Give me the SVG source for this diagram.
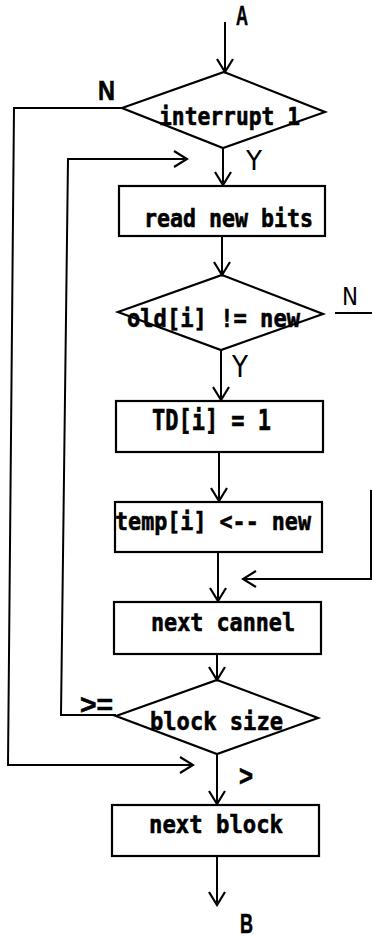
<svg xmlns="http://www.w3.org/2000/svg" width="372" height="938" viewBox="0 0 372 938">
<style>
.shape{fill:none;stroke:#000;stroke-width:2.2}
.conn{fill:none;stroke:#000;stroke-width:2}
.box{font-family:"DejaVu Sans Mono","Liberation Mono",monospace;font-weight:bold;font-size:25px;fill:#000;stroke:#000;stroke-width:0.6}
.lbl{font-family:"Liberation Sans","DejaVu Sans",sans-serif;font-weight:bold;fill:#000;stroke:#000;stroke-width:0.6}
.thin{font-family:"DejaVu Sans","Liberation Sans",sans-serif;font-weight:normal;fill:#000}
</style>
<defs>
<marker id="arr" viewBox="-15 -10 17 20" markerWidth="17" markerHeight="20" refX="0" refY="0" orient="auto" markerUnits="userSpaceOnUse">
<path d="M-13,-8 L0,0 L-13,8" fill="none" stroke="#000" stroke-width="2.2"/>
</marker>
</defs>
<rect width="372" height="938" fill="#fff"/>
<g id="connectors">
<path class="conn" d="M225,22 V72" marker-end="url(#arr)"/>
<path class="conn" d="M223,148 V185" marker-end="url(#arr)"/>
<path class="conn" d="M222,236 V275" marker-end="url(#arr)"/>
<path class="conn" d="M221,350 V400" marker-end="url(#arr)"/>
<path class="conn" d="M219,452 V501" marker-end="url(#arr)"/>
<path class="conn" d="M218,552 V601" marker-end="url(#arr)"/>
<path class="conn" d="M335,313 H374"/>
<path class="conn" d="M371,490 V579 H243" marker-end="url(#arr)"/>
<path class="conn" d="M217,654 V680" marker-end="url(#arr)"/>
<path class="conn" d="M116,715 H61 L68,159 H187" marker-end="url(#arr)"/>
<path class="conn" d="M122,108 H14 L8,765 H193" marker-end="url(#arr)"/>
<path class="conn" d="M217,754 V804" marker-end="url(#arr)"/>
<path class="conn" d="M217,856 V905" marker-end="url(#arr)"/>
</g>
<g id="start">
<text class="lbl" x="236" y="25" style="font-size:28px" textLength="12" lengthAdjust="spacingAndGlyphs">A</text>
</g>
<g id="interrupt">
<polygon class="shape" points="224,72 325,112 223,148 122,108"/>
<text class="box" x="159" y="125" textLength="141" lengthAdjust="spacingAndGlyphs">interrupt 1</text>
<text class="lbl" x="98" y="100" style="font-size:28px" textLength="17" lengthAdjust="spacingAndGlyphs">N</text>
<text class="thin" x="246" y="170" style="font-size:26px" textLength="16" lengthAdjust="spacingAndGlyphs">Y</text>
</g>
<g id="read">
<rect class="shape" x="119" y="186" width="206" height="50"/>
<text class="box" x="144" y="227" textLength="169" lengthAdjust="spacingAndGlyphs">read new bits</text>
</g>
<g id="compare">
<polygon class="shape" points="222,275 323,314 221,350 118,312"/>
<text class="box" x="127" y="327" textLength="173" lengthAdjust="spacingAndGlyphs">old[i] != new</text>
<text class="thin" x="342" y="305" style="font-size:24px" textLength="16" lengthAdjust="spacingAndGlyphs">N</text>
<text class="thin" x="232" y="377" style="font-size:30px" textLength="16" lengthAdjust="spacingAndGlyphs">Y</text>
</g>
<g id="td">
<rect class="shape" x="116" y="401" width="207" height="51"/>
<text class="box" x="152" y="430" style="font-size:28px" textLength="119" lengthAdjust="spacingAndGlyphs">TD[i] = 1</text>
</g>
<g id="temp">
<rect class="shape" x="115" y="502" width="207" height="50"/>
<text class="box" x="115" y="530" textLength="196" lengthAdjust="spacingAndGlyphs">temp[i] &lt;-- new</text>
</g>
<g id="nextcannel">
<rect class="shape" x="114" y="602" width="207" height="52"/>
<text class="box" x="151" y="631" textLength="144" lengthAdjust="spacingAndGlyphs">next cannel</text>
</g>
<g id="blocksize">
<polygon class="shape" points="217,680 318,718 217,754 116,716"/>
<text class="box" x="150" y="730" textLength="133" lengthAdjust="spacingAndGlyphs">block size</text>
<text class="lbl" x="80" y="714" style="font-size:28px" textLength="33" lengthAdjust="spacingAndGlyphs">&gt;=</text>
<text class="lbl" x="239" y="786" style="font-size:30px" textLength="14" lengthAdjust="spacingAndGlyphs">&gt;</text>
</g>
<g id="nextblock">
<rect class="shape" x="112" y="805" width="207" height="51"/>
<text class="box" x="149" y="833" textLength="134" lengthAdjust="spacingAndGlyphs">next block</text>
</g>
<g id="end">
<text class="lbl" x="240" y="933" style="font-size:28px" textLength="13" lengthAdjust="spacingAndGlyphs">B</text>
</g>
</svg>
